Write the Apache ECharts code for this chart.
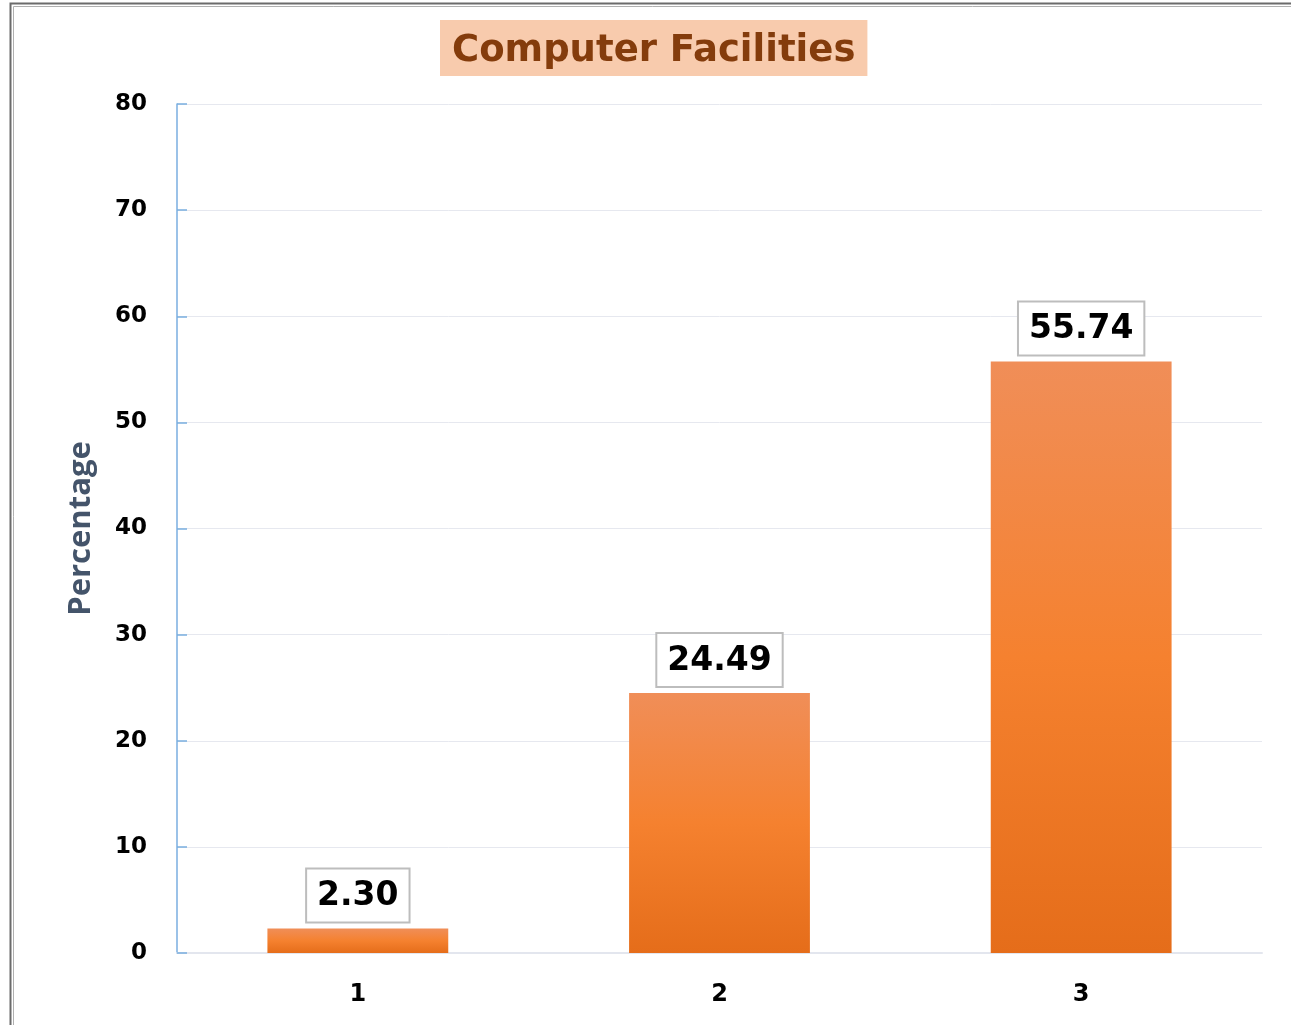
<!DOCTYPE html>
<html>
<head>
<meta charset="utf-8">
<title>Computer Facilities</title>
<script src="https://cdn.jsdelivr.net/npm/echarts@6/dist/echarts.min.js"></script>
<style>
  html, body { margin: 0; padding: 0; background: #ffffff; }
  #chart { width: 1291px; height: 1025px; }
</style>
</head>
<body>
<div id="chart"></div>
<script>
// Share of respondents by computer-facility rating
const categories = ['1', '2', '3'];
const percentages = [2.30, 24.49, 55.74];
const yTicks = { min: 0, max: 80, interval: 10 };

const chart = echarts.init(document.getElementById('chart'), null, { renderer: 'canvas' });

const barGradient = new echarts.graphic.LinearGradient(0, 0, 0, 1, [
  { offset: 0, color: '#F08E58' },
  { offset: 0.5, color: '#F5812F' },
  { offset: 1, color: '#E56D1A' }
]);

chart.setOption({
  animation: false,
  backgroundColor: '#ffffff',
  title: {
    text: 'Computer Facilities',
    left: 440,
    top: 20,
    padding: [11, 12, 5, 12],
    backgroundColor: '#F8CBAD',
    textStyle: {
      fontFamily: 'DejaVu Sans',
      fontWeight: 'bold',
      fontSize: 37,
      color: '#843C0C',
      lineHeight: 40
    }
  },
  graphic: [
    {
      type: 'rect',
      shape: { x: 10.5, y: 3.5, width: 1300, height: 1050 },
      style: { fill: 'none', stroke: '#6b6b6b', lineWidth: 2 },
      silent: true
    },
    {
      type: 'rect',
      shape: { x: 13.5, y: 6.5, width: 1300, height: 1050 },
      style: { fill: 'none', stroke: '#b0b0b0', lineWidth: 1 },
      silent: true
    }
  ],
  grid: {
    left: 177,
    right: 29,
    top: 104,
    bottom: 72,
    containLabel: false
  },
  xAxis: {
    type: 'category',
    data: categories,
    axisLine: { show: true, lineStyle: { color: '#E3E6EE', width: 2 } },
    axisTick: { show: false },
    axisLabel: {
      margin: 30,
      fontFamily: 'DejaVu Sans',
      fontWeight: 'bold',
      fontSize: 24,
      color: '#000000'
    },
    splitLine: { show: false }
  },
  yAxis: {
    type: 'value',
    min: yTicks.min,
    max: yTicks.max,
    interval: yTicks.interval,
    name: 'Percentage',
    nameLocation: 'middle',
    nameGap: 80,
    nameRotate: 90,
    nameTextStyle: {
      fontFamily: 'Open Sans',
      fontWeight: 'bold',
      fontSize: 31,
      color: '#44546A'
    },
    axisLine: { show: true, lineStyle: { color: '#7AAEE0', width: 1.5 } },
    axisTick: { show: true, inside: true, length: 10, lineStyle: { color: '#7AAEE0', width: 1.5 } },
    axisLabel: {
      margin: 30,
      padding: [4, 0, 0, 0],
      fontFamily: 'DejaVu Sans',
      fontWeight: 'bold',
      fontSize: 23,
      color: '#000000'
    },
    splitLine: { show: true, lineStyle: { color: '#E6E8EF', width: 1 } }
  },
  series: [
    {
      type: 'bar',
      data: percentages,
      barWidth: '50%',
      itemStyle: { color: barGradient },
      label: {
        show: true,
        position: 'top',
        distance: 7,
        formatter: (p) => p.value.toFixed(2),
        fontFamily: 'DejaVu Sans',
        fontWeight: 'bold',
        fontSize: 33,
        lineHeight: 36,
        color: '#000000',
        backgroundColor: '#ffffff',
        borderColor: '#BDBDBD',
        borderWidth: 2,
        padding: [9, 10, 7, 10]
      }
    }
  ]
});
</script>
</body>
</html>
